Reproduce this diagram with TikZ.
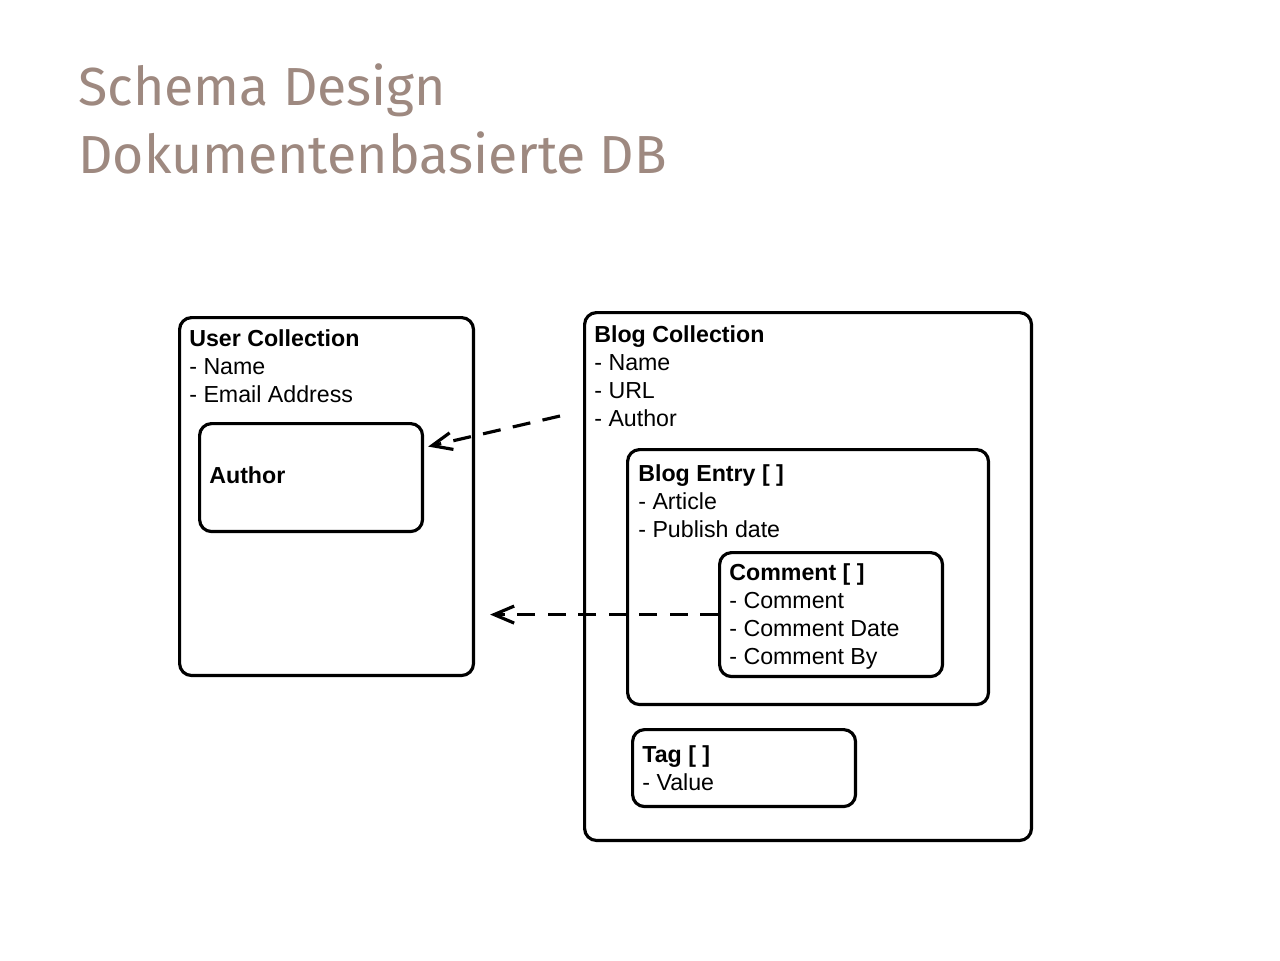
\documentclass[tikz,border=0pt]{standalone}
\usepackage{fontspec}
\setmainfont{Liberation Sans}
\newfontfamily\titlefont{Fira Sans}
\usetikzlibrary{arrows.meta,positioning}
\definecolor{titlegray}{RGB}{158,137,128}
\tikzset{
  box/.style={draw, line width=1.8pt, rounded corners=0.24cm, inner sep=0pt, anchor=north west},
  label/.style={anchor=base west, inner sep=0pt, align=left, font=\fontsize{13.2}{16}\selectfont},
  dep/.style={line width=1.8pt, dash pattern=on 0.36cm off 0.25cm, -{Straight Barb[length=0.4cm,width=0.34cm,line width=1.8pt]}}
}

\begin{document}
\begin{tikzpicture}[x=0.02cm, y=-0.02cm]
  \useasboundingbox[fill=white] (0,0) rectangle (1280,960);
  % title (base = last line)
  \node[titlegray, anchor=base west, inner sep=0pt, align=left,
        font=\titlefont\fontsize{30.5}{38.7}\selectfont] (title) at (78,173)
    {Schema Design\\Dokumentenbasierte DB};
  % user collection
  \node[box, minimum width=5.88cm, minimum height=7.16cm] (user) at (178,316) {};
  \node[label] (usertext) at (189,402.4) {\textbf{User Collection}\\- Name\\- Email Address};
  \node[box, minimum width=4.46cm, minimum height=2.16cm] (author) at (198,422) {};
  \node[label] (authortext) at (209,483) {\textbf{Author}};
  % blog collection
  \node[box, minimum width=8.94cm, minimum height=10.56cm] (blog) at (583,311) {};
  \node[label] (blogtext) at (594,426.6) {\textbf{Blog Collection}\\- Name\\- URL\\- Author};
  \node[box, minimum width=7.22cm, minimum height=5.10cm] (entry) at (626,448) {};
  \node[label] (entrytext) at (638,537.4) {\textbf{Blog Entry [ ]}\\- Article\\- Publish date};
  \node[box, minimum width=4.46cm, minimum height=2.48cm] (comment) at (718,551) {};
  \node[label] (commenttext) at (729,664.7) {\textbf{Comment [ ]}\\- Comment\\- Comment Date\\- Comment By};
  \node[box, minimum width=4.46cm, minimum height=1.54cm] (tag) at (631,728) {};
  \node[label] (tagtext) at (642,790.2) {\textbf{Tag [ ]}\\- Value};
  % references
  \coordinate (authsrc) at (560,416);
  \draw[dep] (authsrc) -- ([shift={(4,-31)}]author.east);
  \draw[dep] (comment.west) -- ([xshift=0.3cm]comment.west -| user.east);
\end{tikzpicture}
\end{document}
